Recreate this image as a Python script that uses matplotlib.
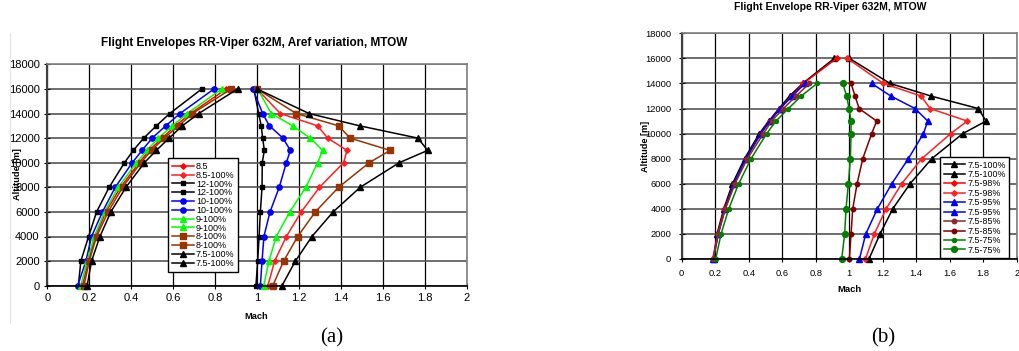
import matplotlib
matplotlib.use("Agg")
import matplotlib.pyplot as plt
from matplotlib.lines import Line2D

plt.rcParams['font.family'] = ['Liberation Sans', 'DejaVu Sans']

# ---------------- data ----------------
alt = [0, 2000, 4000, 6000, 8000, 10000, 11000, 12000, 13000, 14000, 16000]
alt14 = [0, 2000, 4000, 6000, 8000, 10000, 11000, 12000, 13000, 14000]

# (a) Aref variation
a_85_lo = [0.168, 0.195, 0.230, 0.279, 0.349, 0.438, 0.486, 0.548, 0.611, 0.683, 0.854]
a_85_hi = [1.052, 1.084, 1.140, 1.211, 1.298, 1.413, 1.429, 1.337, 1.289, 1.111, 1.000]
a_12_lo = [0.148, 0.160, 0.197, 0.235, 0.295, 0.368, 0.410, 0.460, 0.520, 0.584, 0.737]
a_12_hi = [0.995, 1.003, 1.010, 1.016, 1.024, 1.025, 1.035, 1.027, 1.020, 1.008, 0.985]
a_10_lo = [0.145, 0.184, 0.211, 0.263, 0.324, 0.405, 0.452, 0.500, 0.565, 0.633, 0.795]
a_10_hi = [1.016, 1.024, 1.033, 1.062, 1.106, 1.140, 1.159, 1.124, 1.059, 1.027, 0.980]
a_9_lo = [0.160, 0.190, 0.224, 0.273, 0.338, 0.425, 0.475, 0.530, 0.597, 0.667, 0.833]
a_9_hi = [1.032, 1.057, 1.092, 1.156, 1.233, 1.289, 1.313, 1.254, 1.170, 1.068, 1.003]
a_8_lo = [0.175, 0.200, 0.235, 0.290, 0.359, 0.446, 0.497, 0.557, 0.627, 0.692, 0.878]
a_8_hi = [1.075, 1.127, 1.194, 1.278, 1.389, 1.535, 1.635, 1.444, 1.389, 1.187, 1.000]
a_75_lo = [0.190, 0.211, 0.251, 0.303, 0.375, 0.463, 0.520, 0.581, 0.644, 0.722, 0.908]
a_75_hi = [1.119, 1.183, 1.262, 1.363, 1.492, 1.678, 1.814, 1.767, 1.489, 1.248, 1.000]
a_labels = ["8.5", "8.5-100%", "12-100%", "12-100%", "10-100%", "10-100%",
            "9-100%", "9-100%", "8-100%", "8-100%", "7.5-100%", "7.5-100%"]

# (b) thrust variation, Aref 7.5
b_100_lo = [0.190, 0.211, 0.251, 0.303, 0.375, 0.463, 0.520, 0.581, 0.644, 0.722, 0.911]
b_100_hi = [1.118, 1.184, 1.260, 1.363, 1.493, 1.678, 1.817, 1.771, 1.487, 1.244, 1.001]
b_98_lo = [0.185, 0.215, 0.255, 0.312, 0.384, 0.472, 0.527, 0.587, 0.657, 0.726, 0.925]
b_98_hi = [1.097, 1.150, 1.220, 1.313, 1.433, 1.606, 1.705, 1.483, 1.429, 1.204, 0.989]
b_95_lo = [0.189, 0.219, 0.259, 0.312, 0.382, 0.472, 0.527, 0.587, 0.660, 0.736]
b_95_hi = [1.061, 1.099, 1.168, 1.254, 1.353, 1.443, 1.469, 1.393, 1.248, 1.134]
b_85_lo = [0.189, 0.217, 0.261, 0.318, 0.392, 0.488, 0.537, 0.607, 0.683, 0.762]
b_85_hi = [1.001, 1.011, 1.021, 1.047, 1.081, 1.134, 1.164, 1.059, 1.035, 1.011]
b_75_lo = [0.203, 0.235, 0.281, 0.340, 0.414, 0.507, 0.563, 0.637, 0.714, 0.808]
b_75_hi = [0.955, 0.973, 0.981, 0.995, 1.007, 1.011, 1.011, 0.999, 0.985, 0.961]
b_labels = ["7.5-100%", "7.5-100%", "7.5-98%", "7.5-98%", "7.5-95%", "7.5-95%",
            "7.5-85%", "7.5-85%", "7.5-75%", "7.5-75%"]

xticks = [0, 0.2, 0.4, 0.6, 0.8, 1, 1.2, 1.4, 1.6, 1.8, 2]
xticklabels = ["0", "0.2", "0.4", "0.6", "0.8", "1", "1.2", "1.4", "1.6", "1.8", "2"]
yticks = list(range(0, 18001, 2000))

# ---------------- figure ----------------
W, H = 1019, 351
fig = plt.figure(figsize=(W / 100, H / 100), dpi=100)


def px_axes(x0, x1, ytop, ybot):
    return fig.add_axes([x0 / W, 1 - ybot / H, (x1 - x0) / W, (ybot - ytop) / H])


def style_axes(ax, fs, pad):
    ax.set_xlim(0, 2)
    ax.set_ylim(0, 18000)
    ax.set_xticks(xticks)
    ax.set_xticklabels(xticklabels)
    ax.set_yticks(yticks)
    ax.set_yticklabels([str(v) for v in yticks])
    ax.tick_params(direction='inout', length=5, width=0.8, labelsize=fs,
                   colors='black', pad=pad)
    ax.xaxis.grid(True, color='black', lw=0.9)
    ax.yaxis.grid(True, color='#555555', lw=1.2)
    ax.set_axisbelow(True)
    for s in ['top', 'right']:
        ax.spines[s].set_color('#808080')
        ax.spines[s].set_linewidth(1.2)
    ax.spines['left'].set_color('#404040')
    ax.spines['left'].set_linewidth(1.5)
    ax.spines['bottom'].set_color('black')
    ax.spines['bottom'].set_linewidth(1.2)


lw = 1.1
# ---- (a) ----
axa = px_axes(47.3, 466.7, 64.3, 285.7)
style_axes(axa, 8, 3)
a_series = [
    (a_85_lo, alt, '#ff0000', 'D', 2.8),
    (a_85_hi, alt, '#ff2020', 'D', 2.8),
    (a_12_lo, alt, 'black', 's', 3.3),
    (a_12_hi, alt, 'black', 's', 3.3),
    (a_10_lo, alt, '#0000ff', 'o', 3.8),
    (a_10_hi, alt, '#0000ff', 'o', 3.8),
    (a_9_lo, alt, '#00ff00', '^', 4.0),
    (a_9_hi, alt, '#00ff00', '^', 4.0),
    (a_8_lo, alt, '#993300', 's', 3.8),
    (a_8_hi, alt, '#993300', 's', 3.8),
    (a_75_lo, alt, 'black', '^', 4.0),
    (a_75_hi, alt, 'black', '^', 4.0),
]
for (x, y, c, m, ms), lab in zip(a_series, a_labels):
    axa.plot(x, y, color=c, marker=m, ms=ms, lw=lw, label=lab, clip_on=False)

lega = axa.legend(loc='upper left', bbox_to_anchor=(168.3 / W, 1 - 158.3 / H),
                  bbox_transform=fig.transFigure, fontsize=6.5, frameon=True,
                  fancybox=False, edgecolor='black', framealpha=1,
                  borderpad=0.4, labelspacing=-0.02, handlelength=2.4,
                  handletextpad=0.25, borderaxespad=0)
lega.get_frame().set_linewidth(1.0)

fig.text(254 / W, 1 - 43 / H, "Flight Envelopes RR-Viper 632M, Aref variation, MTOW",
         ha='center', va='center', fontsize=8.5, fontweight='bold')
fig.text(18 / W, 1 - 174 / H, "Altitude [m]", rotation=90, ha='center', va='center',
         fontsize=6.7, fontweight='bold')
fig.text(256 / W, 1 - 316.7 / H, "Mach", ha='center', va='center',
         fontsize=6.7, fontweight='bold')
fig.text(332 / W, 1 - 338 / H, "(a)", ha='center', va='center',
         fontsize=15, family='Liberation Serif')
fig.add_artist(Line2D([10 / W, 10 / W], [1 - 33 / H, 1 - 323 / H],
                      transform=fig.transFigure, color='#e4e4e4', lw=0.8))

# ---- (b) ----
axb = px_axes(681.7, 1016.7, 33.3, 259.0)
style_axes(axb, 6.7, 5)
b_series = [
    (b_100_lo, alt, 'black', '^', 3.8),
    (b_100_hi, alt, 'black', '^', 3.8),
    (b_98_lo, alt, '#ff0000', 'D', 2.8),
    (b_98_hi, alt, '#ff2020', 'D', 2.8),
    (b_95_lo, alt14, '#0000ff', '^', 3.8),
    (b_95_hi, alt14, '#0000ff', '^', 3.8),
    (b_85_lo, alt14, '#8b2a2a', 'o', 3.2),
    (b_85_hi, alt14, '#800000', 'o', 3.2),
    (b_75_lo, alt14, '#008000', 'o', 2.9),
    (b_75_hi, alt14, '#008000', 'o', 4.2),
]
for (x, y, c, m, ms), lab in zip(b_series, b_labels):
    axb.plot(x, y, color=c, marker=m, ms=ms, lw=lw, label=lab, clip_on=False)

legb = axb.legend(loc='upper left', bbox_to_anchor=(940 / W, 1 - 157 / H),
                  bbox_transform=fig.transFigure, fontsize=6.4, frameon=True,
                  fancybox=False, edgecolor='black', framealpha=1,
                  borderpad=0.4, labelspacing=0.05, handlelength=2.4,
                  handletextpad=0.25, borderaxespad=0)
legb.get_frame().set_linewidth(1.0)

fig.text(830 / W, 1 - 7.5 / H, "Flight Envelope RR-Viper 632M, MTOW",
         ha='center', va='center', fontsize=7.45, fontweight='bold')
fig.text(645 / W, 1 - 146 / H, "Altitude [m]", rotation=90, ha='center', va='center',
         fontsize=6.6, fontweight='bold')
fig.text(849 / W, 1 - 289 / H, "Mach", ha='center', va='center',
         fontsize=6.8, fontweight='bold')
fig.text(883 / W, 1 - 338 / H, "(b)", ha='center', va='center',
         fontsize=15, family='Liberation Serif')

fig.savefig("out.png", dpi=100)
